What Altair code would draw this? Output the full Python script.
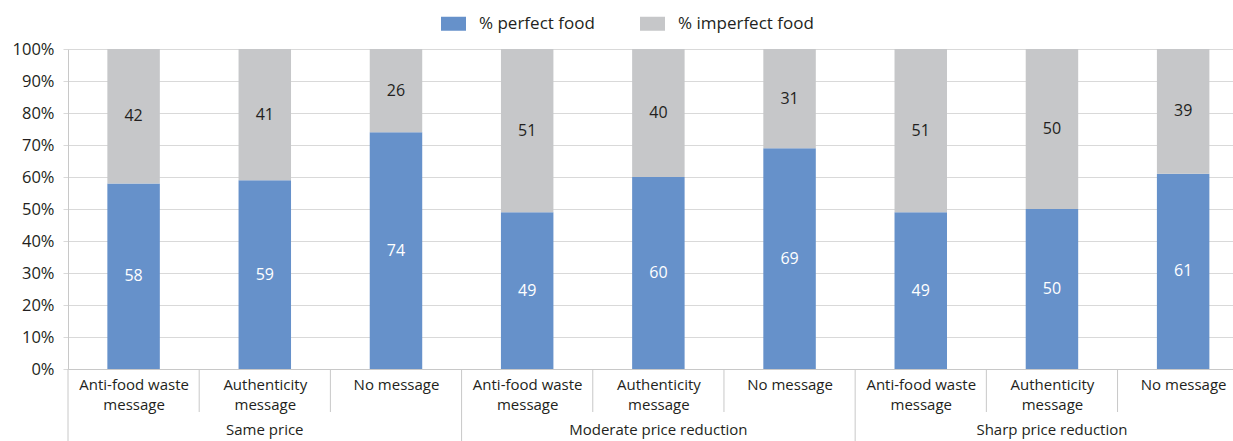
import altair as alt
import pandas as pd

groups = ["Same price", "Moderate price reduction", "Sharp price reduction"]
tick_labels = ["Anti-food waste|message", "Authenticity|message", "No message"] * 3
perfect = [58, 59, 74, 49, 60, 69, 49, 50, 61]
imperfect = [42, 41, 26, 51, 40, 31, 51, 50, 39]
series = ["% perfect food", "% imperfect food"]
y_ticks = [0, 10, 20, 30, 40, 50, 60, 70, 80, 90, 100]

BLUE = "#6691CA"
GRAY = "#C6C7C9"
TXT = "#231F20"
LINE = "#C8C8C8"
FONT = "Open Sans"
FS = 15

rows = []
for i in range(len(perfect)):
    p, q = perfect[i], imperfect[i]
    rows.append(dict(idx=i, series=series[0], start=0, end=p, value=p))
    rows.append(dict(idx=i, series=series[1], start=p, end=p + q, value=q))
df = pd.DataFrame(rows)
df["x0"] = df["idx"] + 0.3
df["x1"] = df["idx"] + 0.7
df["xm"] = df["idx"] + 0.5
df["mid"] = (df["start"] + df["end"]) / 2

bounds = pd.DataFrame({"b": list(range(len(perfect)))})
bounds["long"] = bounds["b"] % 3 == 0
grp = pd.DataFrame({"g": groups, "pos": [1.5, 4.5, 7.5]})

label_arr = "[" + ",".join("'" + s + "'" for s in tick_labels) + "]"

xscale = alt.Scale(domain=[0, 8.88], nice=False, zero=False)
yscale = alt.Scale(domain=[0, 100], nice=False)

X_AXIS = alt.Axis(values=[i + 0.5 for i in range(9)], ticks=False, grid=False, title=None,
                  labelExpr="split(" + label_arr + "[floor(datum.value)], '|')",
                  labelFontSize=FS, labelFont=FONT, labelColor=TXT,
                  labelPadding=8, labelLineHeight=20, labelOverlap=False,
                  labelFlush=False, domainColor=LINE)
Y_AXIS = alt.Axis(values=y_ticks, labelExpr="datum.value + '%'", ticks=True, tickSize=5, title=None,
                  tickColor="#D9D9D9", labelOverlap=False, labelFlush=False,
                  labelFontSize=16.5, labelFont=FONT, labelColor=TXT, labelPadding=9,
                  gridColor="#D9D9D9", domainColor=LINE)


def X(f):
    return alt.X(f, scale=xscale, axis=X_AXIS, title=None)


def Y(f):
    return alt.Y(f, scale=yscale, axis=Y_AXIS, title=None)


bars = alt.Chart(df).mark_bar().encode(
    x=X("x0:Q"),
    x2="x1:Q",
    y=Y("start:Q"),
    y2="end:Q",
    color=alt.Color("series:N", scale=alt.Scale(domain=series, range=[BLUE, GRAY]),
                    legend=alt.Legend(title=None, orient="none", legendX=373, legendY=-38,
                                      direction="horizontal", labelFontSize=17, labelFont=FONT,
                                      labelColor=TXT, symbolType="M-1,-0.56H1V0.56H-1Z",
                                      symbolSize=625, symbolStrokeWidth=0, labelOffset=13,
                                      columnPadding=45, symbolOpacity=1)),
    order=alt.Order("start:Q"),
)

txt_p = alt.Chart(df).transform_filter(alt.datum.series == series[0]).mark_text(
    color="white", fontSize=16, font=FONT).encode(x=X("xm:Q"), y=Y("mid:Q"), text="value:Q")
txt_i = alt.Chart(df).transform_filter(alt.datum.series == series[1]).mark_text(
    color=TXT, fontSize=16, font=FONT).encode(x=X("xm:Q"), y=Y("mid:Q"), text="value:Q")

short_rules = alt.Chart(bounds).transform_filter("!datum.long").mark_rule(color=LINE).encode(
    x=X("b:Q"), y=alt.value(320), y2=alt.value(363))
long_rules = alt.Chart(bounds).transform_filter("datum.long").mark_rule(color=LINE).encode(
    x=X("b:Q"), y=alt.value(320), y2=alt.value(400))

glabels = alt.Chart(grp).mark_text(fontSize=FS, font=FONT, color=TXT, baseline="alphabetic").encode(
    x=X("pos:Q"), y=alt.value(386), text="g:N")

chart = alt.layer(bars, txt_p, txt_i, short_rules, long_rules, glabels).properties(
    width=1165, height=320,
    autosize=alt.AutoSizeParams(type="none"),
    padding={"left": 68, "top": 49, "right": 0, "bottom": 72},
).configure_view(stroke=None).configure_axisY(labelOverlap=False)

chart.save("out.html", embed_options={"renderer": "svg", "actions": False})
